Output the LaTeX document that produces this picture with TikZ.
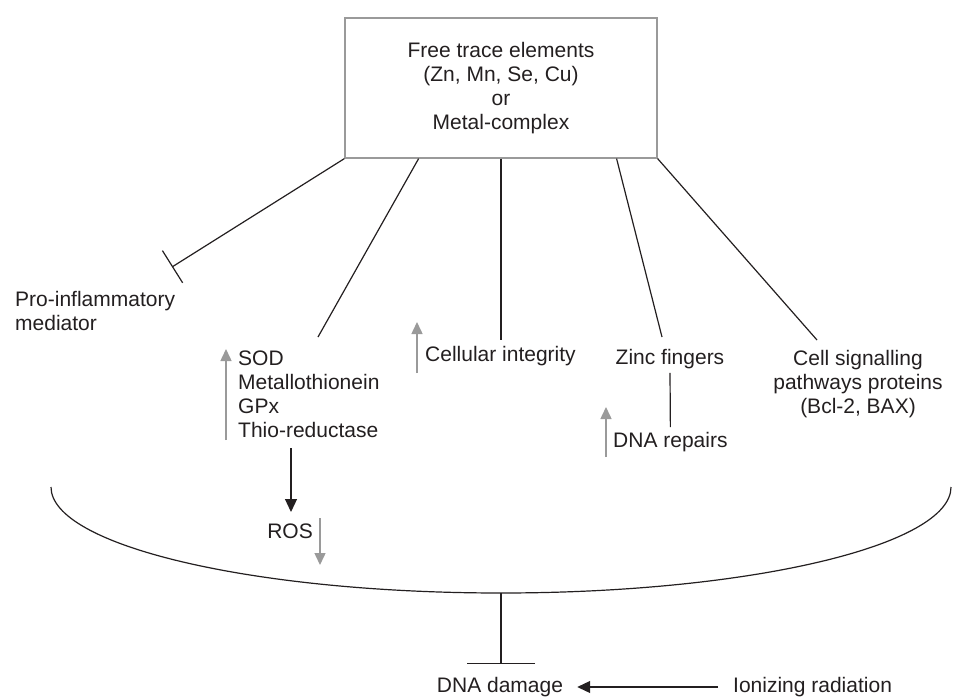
\documentclass[tikz,border=0pt]{standalone}
\usepackage{fontspec}
\setmainfont{Liberation Sans}
\usetikzlibrary{arrows.meta,calc}
\definecolor{ink}{HTML}{231F20}
\definecolor{grayarr}{HTML}{9A9A9A}
\begin{document}
\begin{tikzpicture}[x=1pt,y=-1pt,
  every node/.style={font=\fontsize{21}{24}\selectfont, text=ink, inner sep=0pt},
  conn/.style={draw=ink, line width=1.2pt},
  inhib/.style={conn, -{Bar[width=38pt]}},
  uparrow/.style={draw=grayarr, line width=1.5pt, -{Triangle[length=12pt,width=11pt]}},
  blkarrow/.style={conn, -{Triangle[length=13pt,width=12pt]}},
  lbl/.style={align=left, anchor=west},
]
\useasboundingbox (0,0) rectangle (955,698);

% top box
\node[draw=grayarr, line width=1.2pt, minimum width=312pt, minimum height=140pt, align=center] (box) at (501,88)
  {Free trace elements\\(Zn, Mn, Se, Cu)\\or\\Metal-complex};

% pro-inflammatory
\node[lbl] (pro) at (15,311) {Pro-inflammatory\\mediator};
\coordinate (proend) at (172,267);
\draw[inhib] (box.south west) -- (proend);

% SOD block
\node[lbl] (sod) at (238,394) {SOD\\Metallothionein\\GPx\\Thio-reductase};
\coordinate (sodtop) at (318,337);
\draw[conn] ($(box.south west)!0.237!(box.south east)$) -- (sodtop);
\coordinate (sodup0) at (226,440);
\coordinate (sodup1) at (226,349);
\draw[uparrow] (sodup0) -- (sodup1);

% cellular integrity
\node[lbl] (cell) at (425,356) {Cellular integrity};
\coordinate (celltop) at (501,340);
\draw[conn] (box.south) -- (celltop);
\coordinate (cellup0) at (417,373);
\coordinate (cellup1) at (417,322);
\draw[uparrow] (cellup0) -- (cellup1);

% zinc fingers / DNA repairs
\node (zinc) at (670,359) {Zinc fingers};
\node[lbl] (dna) at (613,442) {DNA repairs};
\coordinate (zinctop) at (662,337);
\draw[conn] ($(box.south west)!0.869!(box.south east)$) -- (zinctop);
\draw[conn] ($(zinc.south)+(0,4)$) -- ($(dna.north)+(0,-5)$);
\coordinate (dnaup0) at (606,457);
\coordinate (dnaup1) at (606,407);
\draw[uparrow] (dnaup0) -- (dnaup1);

% cell signalling
\node[align=center] (sig) at (858,384) {Cell signalling\\pathways proteins\\(Bcl-2, BAX)};
\coordinate (sigtop) at (817,340);
\draw[conn] (box.south east) -- (sigtop);

% ROS
\node (ros) at (290,531) {ROS};
\coordinate (sodbot) at (291,448);
\coordinate (rostip) at (291,512);
\draw[blkarrow] (sodbot) -- (rostip);
\coordinate (rosdn0) at (320,518);
\coordinate (rosdn1) at (320,565);
\draw[uparrow] (rosdn0) -- (rosdn1);

% big curve
\coordinate (cleft) at (51,487);
\coordinate (cbot) at (501,593);
\draw[conn] (cleft) arc[start angle=180, end angle=0, x radius=450, y radius=106];

% DNA damage
\node (dmg) at (500,687) {DNA damage};
\node[lbl] (ion) at (733,687) {Ionizing radiation};
\coordinate (bar) at (501,664);
\draw[conn, -{Bar[width=68pt]}] (cbot) -- (bar);
\draw[blkarrow] ($(ion.west)+(-15,0)$) -- ($(dmg.east)+(14,0)$);
\end{tikzpicture}
\end{document}
